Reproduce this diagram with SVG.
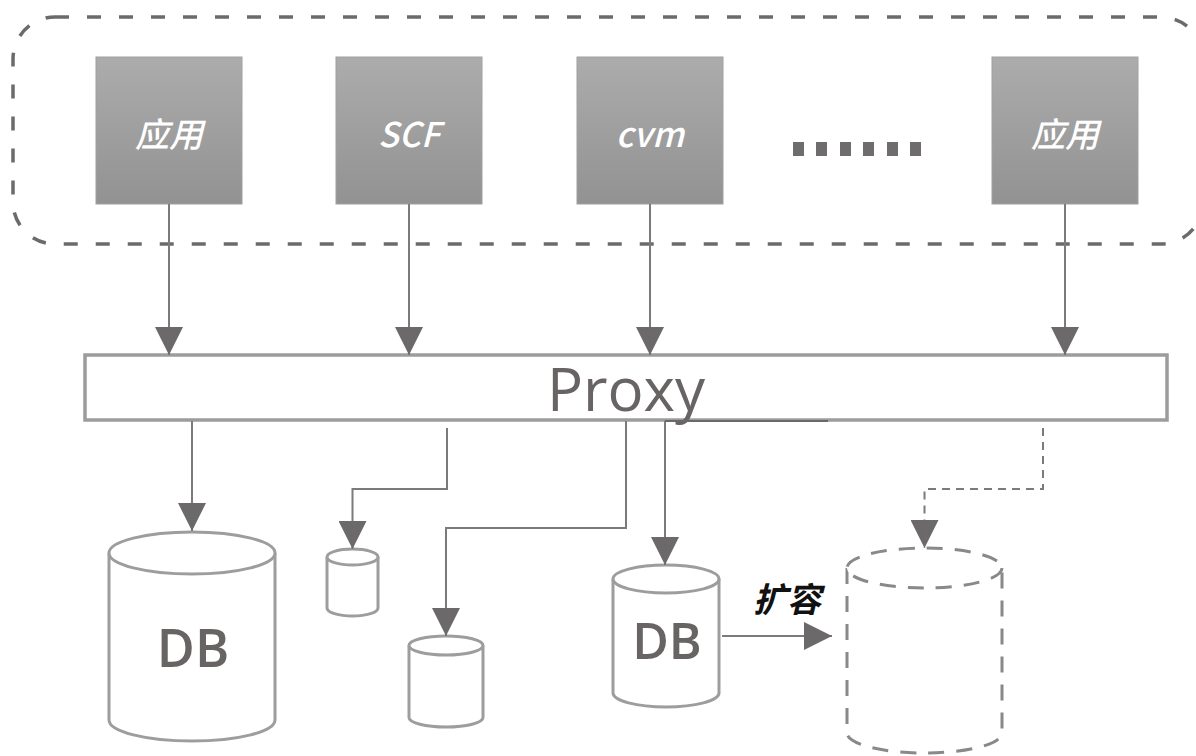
<svg xmlns="http://www.w3.org/2000/svg" width="1196" height="756" viewBox="0 0 1196 756">
  <defs>
    <linearGradient id="boxFill" x1="0" y1="0" x2="0" y2="1">
      <stop offset="0" stop-color="#acacac"/>
      <stop offset="1" stop-color="#929292"/>
    </linearGradient>
    <marker id="head" markerUnits="userSpaceOnUse" markerWidth="28" markerHeight="28" refX="28" refY="14" orient="auto">
      <path d="M0,0 L28,14 L0,28 Z" fill="#6b6969"/>
    </marker>
    <style>
      .box { fill: url(#boxFill); stroke: #a0a0a0; stroke-width: 1; }
      .boxText { font-family: "Noto Sans CJK SC", "Noto Sans", sans-serif; font-style: italic; font-weight: 500; font-size: 34px; fill: #ffffff; text-anchor: middle; }
      .link { fill: none; stroke: #7c7a7a; stroke-width: 2; }
      .dashLink { fill: none; stroke: #7c7a7a; stroke-width: 2; stroke-dasharray: 8 6; }
      .cyl { fill: #ffffff; stroke: #9d9d9d; stroke-width: 3; }
      .cylDash { fill: #ffffff; stroke: #8a8888; stroke-width: 3; stroke-dasharray: 16 12; }
      .label { font-family: "Open Sans", "Liberation Sans", sans-serif; fill: #686464; text-anchor: middle; }
    </style>
  </defs>

  <!-- client group frame -->
  <rect id="clients" x="13" y="17" width="1190" height="227" rx="42" ry="42" fill="none" stroke="#6c6a6a" stroke-width="3.5" stroke-dasharray="14 18"/>

  <g id="app1">
    <rect class="box" x="96" y="57" width="146" height="147"/>
    <text class="boxText" x="169" y="147">应用</text>
  </g>
  <g id="scf">
    <rect class="box" x="336" y="57" width="146" height="147"/>
    <text class="boxText" x="409" y="147">SCF</text>
  </g>
  <g id="cvm">
    <rect class="box" x="577" y="57" width="146" height="147"/>
    <text class="boxText" x="650" y="147">cvm</text>
  </g>
  <g id="ellipsis" fill="#6e6c6c">
    <rect x="793" y="142" width="11" height="14"/>
    <rect x="816" y="142" width="11" height="14"/>
    <rect x="840" y="142" width="11" height="14"/>
    <rect x="863" y="142" width="11" height="14"/>
    <rect x="887" y="142" width="11" height="14"/>
    <rect x="910" y="142" width="11" height="14"/>
  </g>
  <g id="app2">
    <rect class="box" x="992" y="57" width="146" height="147"/>
    <text class="boxText" x="1065" y="147">应用</text>
  </g>

  <!-- proxy bar -->
  <g id="proxy">
    <rect x="85" y="355" width="1082" height="65" fill="#ffffff" stroke="#9c9c9c" stroke-width="3.5"/>
    <text class="label" x="626" y="411" font-size="60" font-weight="500">Proxy</text>
  </g>

  <!-- storage -->
  <g id="db-main">
    <path class="cyl" d="M109,553 V720 A83,21 0 0 0 275,720 V553"/>
    <ellipse class="cyl" cx="192" cy="553" rx="83" ry="21"/>
    <text class="label" x="193" y="667" font-size="52" font-weight="600">DB</text>
  </g>
  <g id="db-small-a">
    <path class="cyl" d="M327,557 V608 A25.5,8 0 0 0 378,608 V557"/>
    <ellipse class="cyl" cx="352.5" cy="557" rx="25.5" ry="8"/>
  </g>
  <g id="db-small-b">
    <path class="cyl" d="M409,645.5 V717.5 A37,9.5 0 0 0 483,717.5 V645.5"/>
    <ellipse class="cyl" cx="446" cy="645.5" rx="37" ry="9.5"/>
  </g>
  <g id="db-shard">
    <path class="cyl" d="M613,579 V693 A53,14 0 0 0 719,693 V579"/>
    <ellipse class="cyl" cx="666" cy="579" rx="53" ry="14"/>
    <text class="label" x="667" y="659" font-size="50" font-weight="600">DB</text>
  </g>
  <g id="db-new">
    <path class="cylDash" d="M847,568 V733 A77.5,20 0 0 0 1002,733 V568"/>
    <ellipse class="cylDash" cx="924.5" cy="568" rx="77.5" ry="20"/>
  </g>

  <!-- connectors -->
  <g id="connectors">
    <path class="link" d="M169,204 V355" marker-end="url(#head)"/>
    <path class="link" d="M409,204 V355" marker-end="url(#head)"/>
    <path class="link" d="M650,204 V355" marker-end="url(#head)"/>
    <path class="link" d="M1065,204 V355" marker-end="url(#head)"/>

    <path class="link" d="M192,421 V531" marker-end="url(#head)"/>
    <path class="link" d="M447,428 V489 H352.5 V549" marker-end="url(#head)"/>
    <path class="link" d="M626,421 V528 H446 V636" marker-end="url(#head)"/>
    <path class="link" d="M665,421 V565" marker-end="url(#head)"/>
    <path d="M665,421 H828" stroke="#6a6868" stroke-width="2"/>
    <path class="dashLink" d="M1043,428 V489 H924.5 V548" marker-end="url(#head)"/>

    <path class="link" d="M722,636 H832" marker-end="url(#head)"/>
    <text x="787" y="612" font-family="Noto Sans CJK SC, sans-serif" font-size="34" font-weight="700" font-style="italic" fill="#111111" text-anchor="middle">扩容</text>
  </g>
</svg>
